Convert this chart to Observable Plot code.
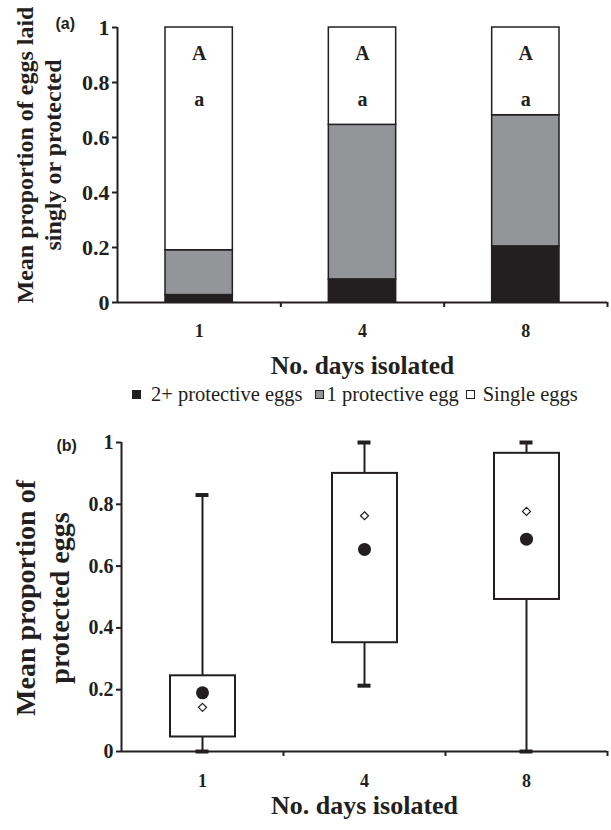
<!DOCTYPE html>
<html><head><meta charset="utf-8">
<script src="https://cdn.jsdelivr.net/npm/d3@7"></script>
<script src="https://cdn.jsdelivr.net/npm/@observablehq/plot@0.6"></script>
<style>
body{margin:0;background:#fff;}
#wrap{position:relative;width:611px;height:830px;overflow:hidden;}
#a{position:absolute;left:0;top:0;}
#b{position:absolute;left:0;top:420px;}
#legend{position:absolute;top:383px;left:132px;height:22px;font:20.5px "Liberation Serif",serif;display:flex;align-items:center;color:#231f20;white-space:nowrap;}
.sw{display:inline-block;width:7px;height:7px;border:1.5px solid #231f20;}
.ytitle{position:absolute;font-family:"Liberation Serif",serif;font-weight:bold;color:#231f20;white-space:nowrap;transform:translate(-50%,-50%) rotate(-90deg);line-height:1;}
</style></head>
<body><div id="wrap"><div id="a"></div><div id="legend"></div><div id="b"></div></div>
<script>
// ---- data ----
const days = ["1", "4", "8"];
const segTypes = ["2+ protective eggs", "1 protective egg", "Single eggs"];
const segColors = ["#231f20", "#939598", "#ffffff"];
const twoPlusShare = [0.027, 0.084, 0.204];
const onePlusShare = [0.163, 0.562, 0.477];
const singleShare = [0.81, 0.354, 0.319];
const upperLetters = ["A", "A", "A"];
const lowerLetters = ["a", "a", "a"];
const yTicks = [0, 0.2, 0.4, 0.6, 0.8, 1];
const yTickLabels = ["0", "0.2", "0.4", "0.6", "0.8", "1"];
const titleA = ["Mean proportion of eggs laid", "singly or protected"];
const titleB = ["Mean proportion of", "protected eggs"];
const xTitle = "No. days isolated";

const boxQ1 = [0.047, 0.352, 0.492];
const boxQ3 = [0.245, 0.90, 0.965];
const whiskerLow = [0, 0.213, 0];
const whiskerHigh = [0.83, 1, 1];
const meanValues = [0.19, 0.654, 0.687];
const medianValues = [0.143, 0.763, 0.777];

// ---- derived tables ----
const ink = "#231f20";
const shares = [twoPlusShare, onePlusShare, singleShare];
const stackRows = [];
days.forEach((d, i) => segTypes.forEach((t, k) => stackRows.push({i, day: d, type: t, value: shares[k][i]})));
const letterRows = days.map((d, i) => ({i, up: upperLetters[i], low: lowerLetters[i]}));
const boxRows = days.map((d, i) => ({i, day: d, q1: boxQ1[i], q3: boxQ3[i], lo: whiskerLow[i], hi: whiskerHigh[i], mean: meanValues[i], median: medianValues[i]}));
const capRows = boxRows.flatMap(r => [{i: r.i, v: r.lo}, {i: r.i, v: r.hi}]);
const yTickRows = yTicks.map((v, k) => ({v, label: yTickLabels[k]}));
const dayRows = days.map((d, i) => ({i, d}));
const edgeTicks = days.map((d, i) => i + 1);

const serif = "Liberation Serif";
const common = (extra) => ({
  width: 611,
  marginRight: 4,
  style: {fontFamily: serif, color: ink, background: "white"},
  x: {domain: [0, days.length], axis: null},
  y: {domain: [0, 1], axis: null},
  ...extra
});
const axes = (xLabelOffset, yFont) => [
  Plot.axisY({ticks: yTicks, tickFormat: () => "", tickSize: 5, label: null, stroke: ink, strokeWidth: 2}),
  Plot.text(yTickRows, {y: "v", text: "label", frameAnchor: "left", dx: -8, textAnchor: "end", lineAnchor: "middle", fontSize: yFont, fontWeight: "bold", fill: ink}),
  Plot.axisX({ticks: edgeTicks, tickFormat: () => "", tickSize: 5, label: null, stroke: ink, strokeWidth: 2}),
  Plot.text(dayRows, {x: d => d.i + 0.5, text: "d", frameAnchor: "bottom", dy: xLabelOffset, lineAnchor: "middle", fontSize: 18, fontWeight: "bold", fill: ink})
];

// ---- panel (a) ----
const chartA = Plot.plot(common({
  height: 380, marginTop: 27, marginBottom: 78, marginLeft: 117,
  color: {domain: segTypes, range: segColors},
  marks: [
    Plot.rectY(stackRows, {x1: d => d.i, x2: d => d.i + 1, y: "value", fill: "type", stroke: ink, strokeWidth: 1.5, insetLeft: 48, insetRight: 48}),
    Plot.ruleY([0], {stroke: ink, strokeWidth: 2}),
    Plot.ruleX([0], {stroke: ink, strokeWidth: 2}),
    ...axes(29, 22),
    Plot.text(letterRows, {x: d => d.i + 0.5, text: "up", frameAnchor: "top", lineAnchor: "middle", dy: 26, fontSize: 20, fontWeight: "bold"}),
    Plot.text(letterRows, {x: d => d.i + 0.5, text: "low", frameAnchor: "top", lineAnchor: "middle", dy: 72, fontSize: 20, fontWeight: "bold"}),
    Plot.text([xTitle], {frameAnchor: "bottom", lineAnchor: "middle", dy: 63, fontSize: 25.5, fontWeight: "bold"}),
    Plot.text(["(a)"], {frameAnchor: "top-left", lineAnchor: "middle", dx: -62, dy: -4, textAnchor: "start", fontFamily: "Liberation Sans", fontWeight: "bold", fontSize: 16})
  ]
}));
document.getElementById("a").appendChild(chartA);

// ---- legend ----
const legend = document.getElementById("legend");
const gaps = [[0, 10], [12, 3], [7, 8]];
segTypes.forEach((t, k) => {
  const sw = document.createElement("span");
  sw.className = "sw";
  sw.style.background = segColors[k];
  sw.style.marginLeft = gaps[k][0] + "px";
  sw.style.marginRight = gaps[k][1] + "px";
  legend.appendChild(sw);
  const tx = document.createElement("span");
  tx.textContent = t;
  legend.appendChild(tx);
});

// ---- panel (b) ----
const chartB = Plot.plot(common({
  height: 410, marginTop: 22, marginBottom: 79, marginLeft: 121,
  marks: [
    Plot.ruleX(boxRows, {x: d => d.i + 0.5, y1: "lo", y2: "hi", stroke: ink, strokeWidth: 2}),
    Plot.rect(boxRows, {x1: d => d.i, x2: d => d.i + 1, y1: "q1", y2: "q3", fill: "white", stroke: ink, strokeWidth: 2, insetLeft: 49, insetRight: 48}),
    Plot.ruleY([0], {stroke: ink, strokeWidth: 2}),
    Plot.ruleX([0], {stroke: ink, strokeWidth: 2}),
    ...axes(30, 20),
    Plot.ruleY(capRows, {y: "v", x1: d => d.i + 0.46, x2: d => d.i + 0.54, stroke: ink, strokeWidth: 4}),
    Plot.dot(boxRows, {x: d => d.i + 0.5, y: "mean", r: 6.5, fill: ink, stroke: "none"}),
    Plot.dot(boxRows, {x: d => d.i + 0.5, y: "median", symbol: "diamond2", r: 3.6, fill: "white", stroke: ink, strokeWidth: 1.2}),
    Plot.text([xTitle], {frameAnchor: "bottom", lineAnchor: "middle", dy: 54, fontSize: 26, fontWeight: "bold"}),
    Plot.text(["(b)"], {frameAnchor: "top-left", lineAnchor: "middle", dx: -65, dy: 3, textAnchor: "start", fontFamily: "Liberation Sans", fontWeight: "bold", fontSize: 16})
  ]
}));
document.getElementById("b").appendChild(chartB);

// ---- rotated y-axis titles ----
const wrap = document.getElementById("wrap");
const addTitle = (text, cx, cy, size) => {
  const el = document.createElement("div");
  el.className = "ytitle";
  el.textContent = text;
  el.style.left = cx + "px";
  el.style.top = cy + "px";
  el.style.fontSize = size + "px";
  wrap.appendChild(el);
};
addTitle(titleA[0], 25, 155, 24);
addTitle(titleA[1], 53, 155, 24);
addTitle(titleB[0], 26, 598, 28);
addTitle(titleB[1], 60, 598, 28);
</script>
</body></html>
